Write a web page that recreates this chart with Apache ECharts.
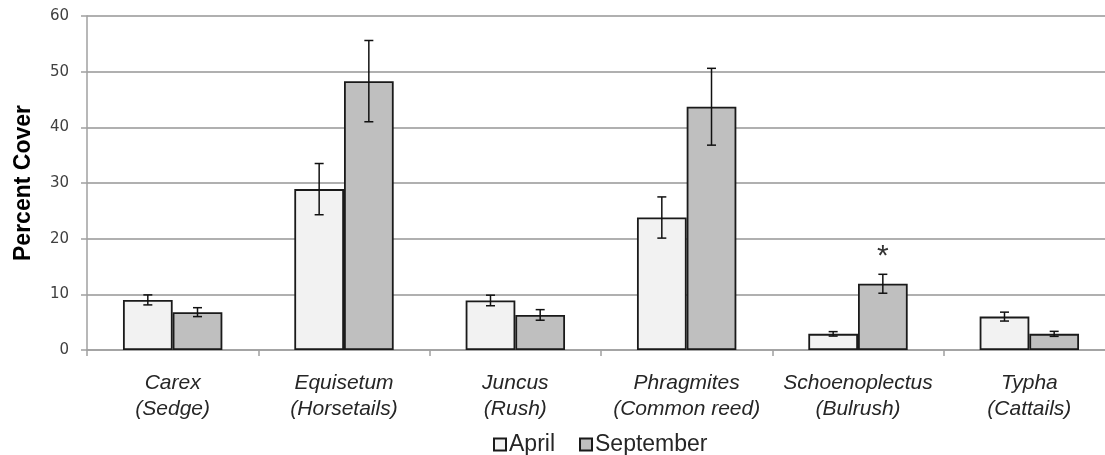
<!DOCTYPE html>
<html>
<head>
<meta charset="utf-8">
<script src="https://cdn.jsdelivr.net/npm/echarts@6/dist/echarts.min.js"></script>
<style>
html,body{margin:0;padding:0;background:#fff;}
#chart{width:1105px;height:455px;}
</style>
</head>
<body>
<div id="chart"></div>
<script>
// ---- data ----
const genus = ['Carex', 'Equisetum', 'Juncus', 'Phragmites', 'Schoenoplectus', 'Typha'];
const commonName = ['Sedge', 'Horsetails', 'Rush', 'Common reed', 'Bulrush', 'Cattails'];
const aprilValues = [9.0, 28.9, 8.9, 23.8, 2.9, 6.0];
const aprilErrors = [0.9, 4.6, 0.95, 3.7, 0.4, 0.8];
const septValues = [6.8, 48.3, 6.3, 43.7, 11.9, 2.9];
const septErrors = [0.8, 7.3, 0.95, 6.9, 1.7, 0.45];
const septMarks = ['', '', '', '', '*', ''];
const yTicks = [0, 10, 20, 30, 40, 50, 60];

const categories = genus.map((g, i) => g + '\n(' + commonName[i] + ')');
const BAR_FRAC = 0.29;

function errorSeries(name, values, errors, side, marks) {
  return {
    type: 'custom',
    name: name + ' err',
    z: 5,
    silent: true,
    encode: { x: 0, y: 1 },
    data: values.map((v, i) => [i, v, errors[i]]),
    renderItem: function (params, api) {
      const idx = api.value(0);
      const v = api.value(1);
      const e = api.value(2);
      const band = api.size([1, 0])[0];
      const off = side * band * BAR_FRAC / 2;
      const top = api.coord([idx, v + e]);
      const bot = api.coord([idx, v - e]);
      const x = top[0] + off;
      const cap = 4.5;
      const st = { stroke: '#111', lineWidth: 1.5 };
      const children = [
        { type: 'line', shape: { x1: x, y1: top[1], x2: x, y2: bot[1] }, style: st },
        { type: 'line', shape: { x1: x - cap, y1: top[1], x2: x + cap, y2: top[1] }, style: st },
        { type: 'line', shape: { x1: x - cap, y1: bot[1], x2: x + cap, y2: bot[1] }, style: st }
      ];
      const mark = marks ? marks[params.dataIndex] : '';
      if (mark) {
        children.push({
          type: 'text',
          style: {
            text: mark, x: x, y: top[1] - 3,
            align: 'center', verticalAlign: 'bottom',
            fontFamily: 'Liberation Sans', fontSize: 30, fill: '#333'
          }
        });
      }
      return { type: 'group', children: children };
    }
  };
}

const chart = echarts.init(document.getElementById('chart'), null, { renderer: 'canvas' });
chart.setOption({
  animation: false,
  backgroundColor: '#fff',
  grid: { left: 87, top: 16, bottom: 105, width: 1028, containLabel: false, outerBoundsMode: 'none' },
  legend: {
    left: 488, top: 428,
    itemWidth: 12, itemHeight: 12, itemGap: 24,
    icon: 'rect',
    data: ['April', 'September'],
    textStyle: { fontFamily: 'Liberation Sans', fontSize: 23, color: '#262626', padding: [0, 0, 0, -2] }
  },
  xAxis: {
    type: 'category',
    data: categories,
    axisLine: { lineStyle: { color: '#a0a0a0', width: 1.5 } },
    axisTick: { show: true, length: 6, lineStyle: { color: '#a0a0a0', width: 1.5 } },
    axisLabel: {
      interval: 0, margin: 20,
      fontFamily: 'Liberation Sans', fontStyle: 'italic', fontSize: 21,
      lineHeight: 26, color: '#262626'
    }
  },
  yAxis: {
    type: 'value',
    min: 0, max: 60, interval: 10,
    name: 'Percent Cover',
    nameLocation: 'middle',
    nameGap: 52,
    nameTextStyle: { fontFamily: 'Liberation Sans', fontWeight: 'bold', fontSize: 23, color: '#000' },
    axisLine: { show: true, lineStyle: { color: '#a0a0a0', width: 1.5 } },
    axisTick: { show: true, length: 6, lineStyle: { color: '#a0a0a0', width: 1.5 } },
    axisLabel: {
      margin: 18, fontFamily: 'DejaVu Sans', fontSize: 15, color: '#404040',
      formatter: function (v) { return yTicks.indexOf(v) >= 0 ? String(v) : ''; }
    },
    splitLine: { lineStyle: { color: '#b0b0b0', width: 2 } }
  },
  series: [
    {
      name: 'April', type: 'bar', data: aprilValues,
      barWidth: (BAR_FRAC * 100) + '%', barGap: '0%',
      itemStyle: { color: '#f2f2f2', borderColor: '#1a1a1a', borderWidth: 1.8 }
    },
    {
      name: 'September', type: 'bar', data: septValues,
      barWidth: (BAR_FRAC * 100) + '%', barGap: '0%',
      itemStyle: { color: '#bfbfbf', borderColor: '#1a1a1a', borderWidth: 1.8 }
    },
    errorSeries('April', aprilValues, aprilErrors, -1, null),
    errorSeries('September', septValues, septErrors, 1, septMarks)
  ]
});
</script>
</body>
</html>
